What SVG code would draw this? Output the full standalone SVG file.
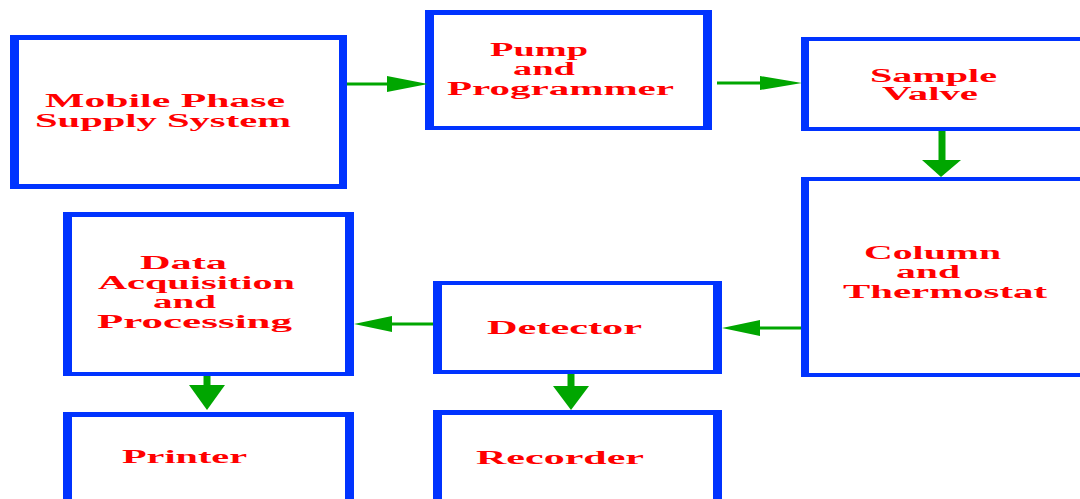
<svg xmlns="http://www.w3.org/2000/svg" width="1080" height="499" viewBox="0 0 1080 499">
  <style>
    .frame { fill: #0033ff; fill-rule: evenodd; }
    .lbl { font-family: "Liberation Serif", "Times New Roman", serif; font-weight: bold; font-size: 18px; fill: #ff0000; }
    .wire { stroke: #00a600; stroke-width: 3; fill: none; }
    .shaft { stroke: #00a600; stroke-width: 7; fill: none; }
    .head { fill: #00a600; }
  </style>
  <rect width="1080" height="499" fill="#ffffff"/>

  <!-- blocks: thick blue frames, side borders wider than top/bottom -->
  <g id="mobile-phase">
    <path class="frame" d="M10 35H347V189H10Z M19 40V184H339V40Z"/>
    <text class="lbl" x="45" y="107" textLength="240" lengthAdjust="spacingAndGlyphs">Mobile Phase</text>
    <text class="lbl" x="35" y="127" textLength="256" lengthAdjust="spacingAndGlyphs">Supply System</text>
  </g>
  <g id="pump">
    <path class="frame" d="M425 10H712V130H425Z M434 15V126H703V15Z"/>
    <text class="lbl" x="490" y="56" textLength="98" lengthAdjust="spacingAndGlyphs">Pump</text>
    <text class="lbl" x="513" y="75" textLength="62" lengthAdjust="spacingAndGlyphs">and</text>
    <text class="lbl" x="447" y="95" textLength="227" lengthAdjust="spacingAndGlyphs">Programmer</text>
  </g>
  <g id="sample-valve">
    <path class="frame" d="M801 37H1100V131H801Z M809 41V127H1100V41Z"/>
    <text class="lbl" x="870" y="82" textLength="127" lengthAdjust="spacingAndGlyphs">Sample</text>
    <text class="lbl" x="882" y="100" textLength="96" lengthAdjust="spacingAndGlyphs">Valve</text>
  </g>
  <g id="column">
    <path class="frame" d="M801 177H1100V377H801Z M809 181V373H1100V181Z"/>
    <text class="lbl" x="864" y="259" textLength="137" lengthAdjust="spacingAndGlyphs">Column</text>
    <text class="lbl" x="896" y="278" textLength="64" lengthAdjust="spacingAndGlyphs">and</text>
    <text class="lbl" x="843" y="298" textLength="204" lengthAdjust="spacingAndGlyphs">Thermostat</text>
  </g>
  <g id="data-acquisition">
    <path class="frame" d="M63 212H354V376H63Z M72 217V372H345V217Z"/>
    <text class="lbl" x="140" y="269" textLength="87" lengthAdjust="spacingAndGlyphs">Data</text>
    <text class="lbl" x="98" y="289" textLength="197" lengthAdjust="spacingAndGlyphs">Acquisition</text>
    <text class="lbl" x="153" y="308" textLength="63" lengthAdjust="spacingAndGlyphs">and</text>
    <text class="lbl" x="97" y="328" textLength="195" lengthAdjust="spacingAndGlyphs">Processing</text>
  </g>
  <g id="printer">
    <path class="frame" d="M63 412H354V510H63Z M72 417V510H345V417Z"/>
    <text class="lbl" x="122" y="463" textLength="125" lengthAdjust="spacingAndGlyphs">Printer</text>
  </g>
  <g id="detector">
    <path class="frame" d="M433 281H722V374H433Z M442 285V370H713V285Z"/>
    <text class="lbl" x="487" y="334" textLength="155" lengthAdjust="spacingAndGlyphs">Detector</text>
  </g>
  <g id="recorder">
    <path class="frame" d="M433 410H722V510H433Z M442 415V510H713V415Z"/>
    <text class="lbl" x="476" y="464" textLength="168" lengthAdjust="spacingAndGlyphs">Recorder</text>
  </g>

  <!-- flow connectors -->
  <g id="connectors">
    <line class="wire" x1="347" y1="84" x2="390" y2="84"/>
    <polygon class="head" points="387,76 428,84 387,92"/>

    <line class="wire" x1="717" y1="83" x2="762" y2="83"/>
    <polygon class="head" points="760,76 802,83 760,90"/>

    <line class="shaft" x1="942" y1="131" x2="942" y2="162"/>
    <polygon class="head" points="922,160 961,160 941,177"/>

    <line class="wire" x1="801" y1="328" x2="757" y2="328"/>
    <polygon class="head" points="760,320 722,328 760,336"/>

    <line class="wire" x1="433" y1="324" x2="389" y2="324"/>
    <polygon class="head" points="392,316 354,324 392,332"/>

    <line class="shaft" x1="207" y1="376" x2="207" y2="387"/>
    <polygon class="head" points="189,385 225,385 207,410"/>

    <line class="shaft" x1="571" y1="374" x2="571" y2="388"/>
    <polygon class="head" points="553,386 589,386 571,410"/>
  </g>
</svg>
